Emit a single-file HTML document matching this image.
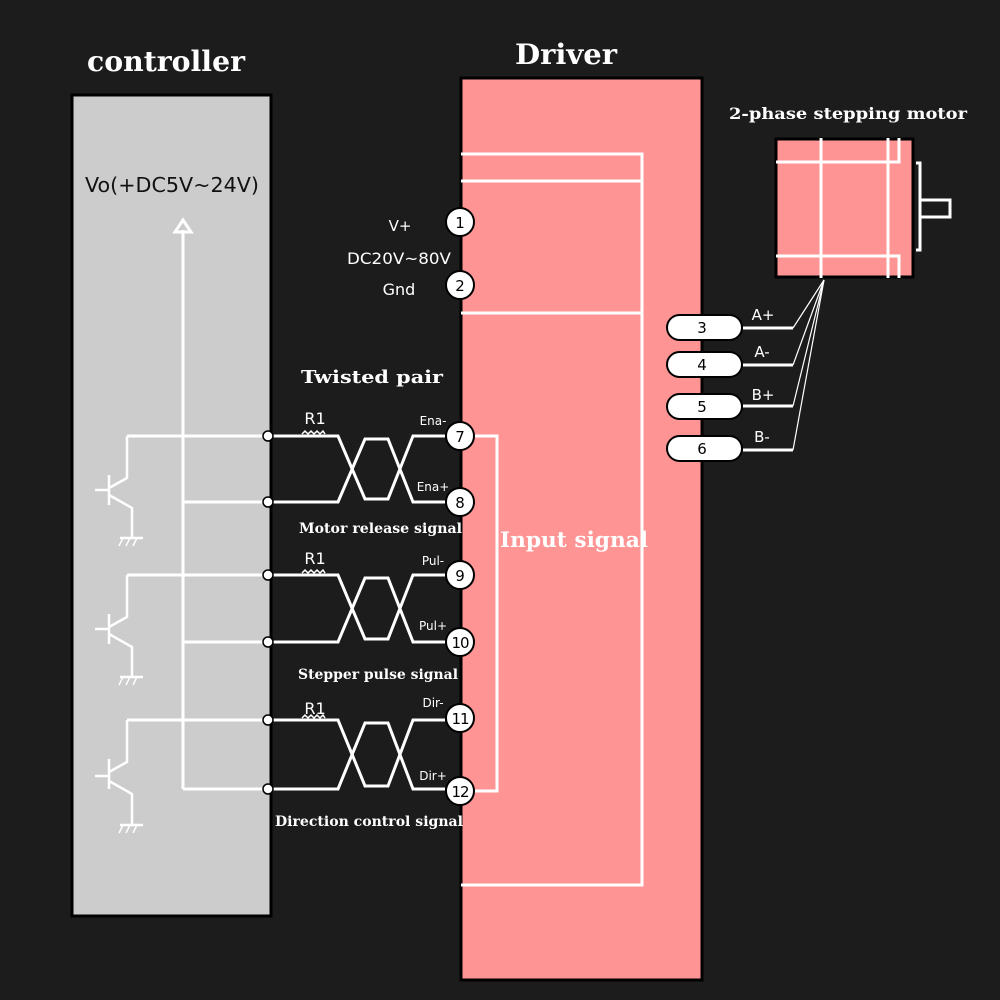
<!DOCTYPE html>
<html><head><style>
body{margin:0;background:#1c1c1c;}
svg{display:block}
.s{font-family:"DejaVu Serif","Liberation Serif",serif;font-weight:bold;fill:#fff}
.a{font-family:"DejaVu Sans","Liberation Sans",sans-serif;fill:#fff}
</style></head><body>
<svg width="1000" height="1000" viewBox="0 0 1000 1000">
<rect width="1000" height="1000" fill="#1c1c1c"/>
<rect x="72" y="95" width="199" height="821" fill="#cccccc" stroke="#000" stroke-width="3"/>
<text x="87" y="71" class="s" font-size="28" textLength="158" lengthAdjust="spacingAndGlyphs">controller</text>
<text x="85" y="192" font-family="DejaVu Sans,Liberation Sans,sans-serif" font-size="20" fill="#111" textLength="174" lengthAdjust="spacingAndGlyphs">Vo(+DC5V~24V)</text>
<rect x="461" y="78" width="241" height="902" fill="#ff9494" stroke="#000" stroke-width="3"/>
<text x="515" y="64" class="s" font-size="28" textLength="102" lengthAdjust="spacingAndGlyphs">Driver</text>
<g stroke="#fff" stroke-width="3" fill="none">
<polyline points="461,154 642,154 642,885 461,885"/>
<line x1="461" y1="181" x2="642" y2="181"/>
<line x1="461" y1="313" x2="642" y2="313"/>
<polyline points="474,436 497,436 497,791 474,791"/>
<line x1="183" y1="230" x2="183" y2="789"/>
</g>
<polygon points="183,220 175,232 191,232" fill="none" stroke="#fff" stroke-width="3"/>
<text x="500" y="547" class="s" font-size="21" textLength="148" lengthAdjust="spacingAndGlyphs">Input signal</text>
<text x="400" y="231" class="a" font-size="15" text-anchor="middle">V+</text>
<text x="347" y="264" class="a" font-size="16" textLength="104" lengthAdjust="spacingAndGlyphs">DC20V~80V</text>
<text x="399" y="295" class="a" font-size="16" text-anchor="middle">Gnd</text>
<text x="301" y="383" class="s" font-size="18" textLength="142" lengthAdjust="spacingAndGlyphs">Twisted pair</text>
<text x="299" y="533" class="s" font-size="13.5" textLength="163" lengthAdjust="spacingAndGlyphs">Motor release signal</text>
<text x="298" y="679" class="s" font-size="13.5" textLength="160" lengthAdjust="spacingAndGlyphs">Stepper pulse signal</text>
<text x="275" y="826" class="s" font-size="13.5" textLength="188" lengthAdjust="spacingAndGlyphs">Direction control signal</text>
<g stroke="#fff" stroke-width="3" fill="none">
<polyline points="127,436 338,436 365,499 388,499 413,436 445,436"/>
<polyline points="183,502 338,502 365,439 388,439 413,502 445,502"/>
<polyline points="127,575 338,575 365,639 388,639 413,575 445,575"/>
<polyline points="183,642 338,642 365,578 388,578 413,642 445,642"/>
<polyline points="127,720 338,720 365,786 388,786 413,720 445,720"/>
<polyline points="183,789 338,789 365,723 388,723 413,789 445,789"/>
</g>
<g stroke="#fff" stroke-width="2.5" fill="none">
<g>
<polyline points="127,436 127,478 109,488"/><line x1="109" y1="475" x2="109" y2="505"/><line x1="95" y1="490" x2="109" y2="490"/>
<polyline points="109,495 132,508 132,538"/><line x1="120" y1="538" x2="143" y2="538"/>
</g>
<g>
<polyline points="127,575 127,617 109,627"/><line x1="109" y1="614" x2="109" y2="644"/><line x1="95" y1="629" x2="109" y2="629"/>
<polyline points="109,634 132,647 132,677"/><line x1="120" y1="677" x2="143" y2="677"/>
</g>
<g>
<polyline points="127,720 127,762 109,772"/><line x1="109" y1="759" x2="109" y2="789"/><line x1="95" y1="776" x2="109" y2="776"/>
<polyline points="109,781 132,794 132,825"/><line x1="120" y1="825" x2="143" y2="825"/>
</g>
</g>
<g stroke="#fff" stroke-width="1.5">
<line x1="123" y1="538" x2="119" y2="546"/><line x1="130" y1="538" x2="126" y2="546"/><line x1="137" y1="538" x2="133" y2="546"/>
<line x1="123" y1="677" x2="119" y2="685"/><line x1="130" y1="677" x2="126" y2="685"/><line x1="137" y1="677" x2="133" y2="685"/>
<line x1="123" y1="825" x2="119" y2="833"/><line x1="130" y1="825" x2="126" y2="833"/><line x1="137" y1="825" x2="133" y2="833"/>
</g>
<g stroke="#fff" stroke-width="1.5" fill="none">
<polyline points="302,434 305,431 308,434 311,431 314,434 317,431 320,434 323,431 325,434"/>
<polyline points="302,573 305,570 308,573 311,570 314,573 317,570 320,573 323,570 325,573"/>
<polyline points="302,718 305,715 308,718 311,715 314,718 317,715 320,718 323,715 325,718"/>
</g>
<g class="a" font-size="16" text-anchor="middle">
<text x="315" y="424">R1</text><text x="315" y="564">R1</text><text x="315" y="714">R1</text>
</g>
<g class="a" font-size="12" text-anchor="middle">
<text x="433" y="425">Ena-</text><text x="433" y="491">Ena+</text>
<text x="433" y="565">Pul-</text><text x="433" y="630">Pul+</text>
<text x="433" y="707">Dir-</text><text x="433" y="780">Dir+</text>
</g>
<g fill="#fff" stroke="#000" stroke-width="1.5">
<circle cx="268" cy="436" r="5"/><circle cx="268" cy="502" r="5"/>
<circle cx="268" cy="575" r="5"/><circle cx="268" cy="642" r="5"/>
<circle cx="268" cy="720" r="5"/><circle cx="268" cy="789" r="5"/>
</g>
<g fill="#fff" stroke="#000" stroke-width="2">
<circle cx="460" cy="222" r="14"/><circle cx="460" cy="285" r="14"/>
<circle cx="460" cy="436" r="14"/><circle cx="460" cy="502" r="14"/>
<circle cx="460" cy="575" r="14"/><circle cx="460" cy="642" r="14"/>
<circle cx="460" cy="718" r="14"/><circle cx="460" cy="791" r="14"/>
</g>
<g font-family="DejaVu Sans,Liberation Sans,sans-serif" font-size="15" fill="#000" text-anchor="middle">
<text x="460" y="228">1</text><text x="460" y="291">2</text>
<text x="460" y="442">7</text><text x="460" y="508">8</text>
<text x="460" y="581">9</text><text x="460" y="648" letter-spacing="-1">10</text>
<text x="460" y="724" letter-spacing="-1">11</text><text x="460" y="797" letter-spacing="-1">12</text>
</g>
<text x="729" y="119" class="s" font-size="16" textLength="238" lengthAdjust="spacingAndGlyphs">2-phase stepping motor</text>
<rect x="776" y="139" width="137" height="138" fill="#ff9494" stroke="#000" stroke-width="3"/>
<g stroke="#fff" stroke-width="3" fill="none">
<line x1="821" y1="138" x2="821" y2="278"/>
<line x1="888" y1="138" x2="888" y2="278"/>
<polyline points="776,162 899,162 899,138"/>
<polyline points="776,256 899,256 899,278"/>
<polyline points="916,163 920,163 920,250 916,250"/>
<rect x="920" y="200" width="30" height="17"/>
</g>
<g stroke="#fff" stroke-width="3" fill="none">
<line x1="743" y1="328" x2="793" y2="328"/>
<line x1="743" y1="365" x2="793" y2="365"/>
<line x1="743" y1="406" x2="793" y2="406"/>
<line x1="743" y1="450" x2="793" y2="450"/>
</g>
<g stroke="#fff" stroke-width="1.2" fill="none">
<line x1="793" y1="328" x2="824" y2="280"/>
<line x1="793" y1="365" x2="824" y2="280"/>
<line x1="793" y1="406" x2="824" y2="280"/>
<line x1="793" y1="450" x2="824" y2="280"/>
</g>
<g fill="#fff" stroke="#000" stroke-width="2">
<rect x="667" y="315" width="75" height="25" rx="12.5"/>
<rect x="667" y="352" width="75" height="25" rx="12.5"/>
<rect x="667" y="394" width="75" height="25" rx="12.5"/>
<rect x="667" y="436" width="75" height="25" rx="12.5"/>
</g>
<g font-family="DejaVu Sans,Liberation Sans,sans-serif" font-size="15" fill="#000" text-anchor="middle">
<text x="702" y="333">3</text><text x="702" y="370">4</text><text x="702" y="412">5</text><text x="702" y="454">6</text>
</g>
<g class="a" font-size="15" text-anchor="middle">
<text x="763" y="320">A+</text><text x="762" y="357">A-</text><text x="763" y="400">B+</text><text x="762" y="442">B-</text>
</g>
</svg>
</body></html>
